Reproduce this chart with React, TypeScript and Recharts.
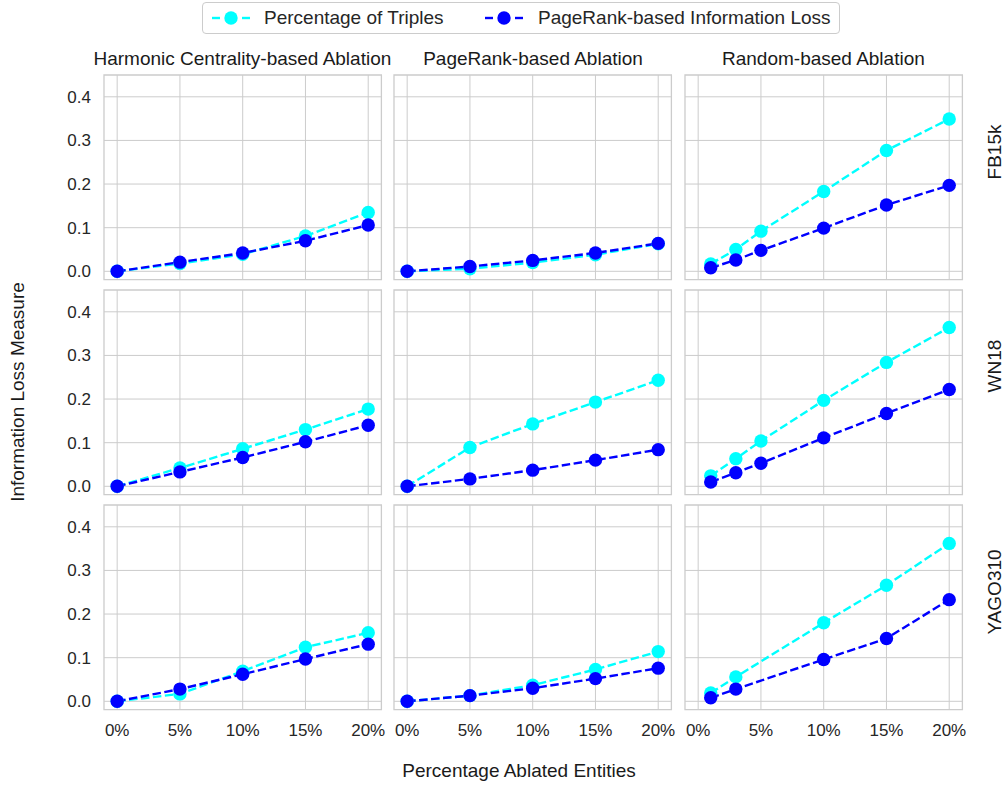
import { LineChart, Line, XAxis, YAxis, CartesianGrid, ReferenceArea } from 'recharts';

// x positions (percentage of ablated entities)
const centralityPct = [0, 5, 10, 15, 20];
const randomPct = [1, 3, 5, 10, 15, 20];
const randomPctYago = [1, 3, 10, 15, 20];

// FB15k
const fb15kHcTriples = [0, 0.018, 0.039, 0.081, 0.135];
const fb15kHcPagerank = [0, 0.021, 0.042, 0.07, 0.106];
const fb15kPrTriples = [0, 0.006, 0.02, 0.038, 0.063];
const fb15kPrPagerank = [0, 0.011, 0.025, 0.042, 0.064];
const fb15kRndTriples = [0.017, 0.05, 0.092, 0.183, 0.277, 0.349];
const fb15kRndPagerank = [0.008, 0.026, 0.048, 0.099, 0.152, 0.197];

// WN18
const wn18HcTriples = [0, 0.042, 0.086, 0.13, 0.177];
const wn18HcPagerank = [0, 0.033, 0.066, 0.102, 0.14];
const wn18PrTriples = [0, 0.089, 0.143, 0.193, 0.243];
const wn18PrPagerank = [0, 0.017, 0.037, 0.06, 0.084];
const wn18RndTriples = [0.024, 0.063, 0.104, 0.197, 0.284, 0.364];
const wn18RndPagerank = [0.01, 0.031, 0.053, 0.111, 0.167, 0.222];

// YAGO310
const yagoHcTriples = [0, 0.017, 0.069, 0.124, 0.157];
const yagoHcPagerank = [0, 0.028, 0.062, 0.097, 0.131];
const yagoPrTriples = [0, 0.013, 0.037, 0.073, 0.114];
const yagoPrPagerank = [0, 0.013, 0.03, 0.052, 0.076];
const yagoRndTriples = [0.019, 0.056, 0.18, 0.266, 0.362];
const yagoRndPagerank = [0.008, 0.028, 0.096, 0.144, 0.233];

const columnTitles = ['Harmonic Centrality-based Ablation', 'PageRank-based Ablation', 'Random-based Ablation'];
const rowTitles = ['FB15k', 'WN18', 'YAGO310'];
const xTicks = [0, 5, 10, 15, 20];
const yTicks = [0, 0.1, 0.2, 0.3, 0.4];
const seriesNames = ['Percentage of Triples', 'PageRank-based Information Loss'];

const CYAN = '#00ffff';
const BLUE = '#0000ff';
const TEXT = '#262626';
const GRID = '#cccccc';
const FONT = '"Liberation Sans", Arial, sans-serif';
const DASH = '8.5 3.5';

const X_DOMAIN: [number, number] = [-1.05, 21.05];
const Y_DOMAIN: [number, number] = [-0.019, 0.45];
const PLOT_W = 277.4;
const PLOT_H = 204.6;
const PAD = 20;
const Y_AXIS_W = 50;
const X_AXIS_H = 40;
const colLeft = [103.7, 394.3, 684.7];
const rowTop = [74.7, 289.7, 504.7];
const rowLabelY = [152, 366, 592];

const zip = (xs: number[], a: number[], b: number[]) =>
  xs.map((pct, i) => ({ pct, triples: a[i], pagerank: b[i] }));

const grid = [
  [zip(centralityPct, fb15kHcTriples, fb15kHcPagerank), zip(centralityPct, fb15kPrTriples, fb15kPrPagerank), zip(randomPct, fb15kRndTriples, fb15kRndPagerank)],
  [zip(centralityPct, wn18HcTriples, wn18HcPagerank), zip(centralityPct, wn18PrTriples, wn18PrPagerank), zip(randomPct, wn18RndTriples, wn18RndPagerank)],
  [zip(centralityPct, yagoHcTriples, yagoHcPagerank), zip(centralityPct, yagoPrTriples, yagoPrPagerank), zip(randomPctYago, yagoRndTriples, yagoRndPagerank)],
];

interface PanelProps {
  data: { pct: number; triples: number; pagerank: number }[];
  row: number;
  col: number;
}

function Panel({ data, row, col }: PanelProps) {
  const showY = col === 0;
  const showX = row === 2;
  const w = PLOT_W + 2 * PAD + (showY ? Y_AXIS_W : 0);
  const h = PLOT_H + 2 * PAD + (showX ? X_AXIS_H : 0);
  const left = colLeft[col] - PAD - (showY ? Y_AXIS_W : 0);
  const top = rowTop[row] - PAD;
  const tick = { fill: TEXT, fontSize: 17, fontFamily: FONT };

  return (
    <div style={{ position: 'absolute', left, top }}>
      <LineChart width={w} height={h} data={data} margin={{ top: PAD, right: PAD, bottom: PAD, left: PAD }}>
        <CartesianGrid stroke={GRID} strokeWidth={1} horizontalValues={yTicks} verticalValues={xTicks} />
        <XAxis
          dataKey="pct"
          type="number"
          domain={X_DOMAIN}
          ticks={xTicks}
          allowDataOverflow
          interval={0}
          hide={!showX}
          height={X_AXIS_H}
          tickLine={false}
          axisLine={false}
          tickSize={0}
          tickMargin={14}
          tick={tick}
          tickFormatter={(v: number) => `${v}%`}
        />
        <YAxis
          type="number"
          domain={Y_DOMAIN}
          ticks={yTicks}
          allowDataOverflow
          interval={0}
          hide={!showY}
          width={Y_AXIS_W}
          tickLine={false}
          axisLine={false}
          tickSize={0}
          tickMargin={13}
          tick={tick}
          tickFormatter={(v: number) => v.toFixed(1)}
        />
        <ReferenceArea x1={X_DOMAIN[0]} x2={X_DOMAIN[1]} y1={Y_DOMAIN[0]} y2={Y_DOMAIN[1]} fill="none" fillOpacity={0} stroke={GRID} strokeWidth={1.3} />
        <Line
          dataKey="triples"
          type="linear"
          stroke={CYAN}
          strokeWidth={2.4}
          strokeDasharray={DASH}
          dot={{ r: 6.7, fill: CYAN, stroke: 'none' }}
          isAnimationActive={false}
        />
        <Line
          dataKey="pagerank"
          type="linear"
          stroke={BLUE}
          strokeWidth={2.4}
          strokeDasharray={DASH}
          dot={{ r: 6.7, fill: BLUE, stroke: 'none' }}
          isAnimationActive={false}
        />
      </LineChart>
    </div>
  );
}

function Swatch({ color }: { color: string }) {
  return (
    <svg width={40} height={16} style={{ display: 'block' }}>
      <line x1={1} y1={8} x2={9} y2={8} stroke={color} strokeWidth={2.4} />
      <line x1={31} y1={8} x2={39} y2={8} stroke={color} strokeWidth={2.4} />
      <circle cx={20} cy={8} r={6.7} fill={color} />
    </svg>
  );
}

const labelStyle = { position: 'absolute' as const, whiteSpace: 'nowrap' as const, color: TEXT, fontSize: 19, lineHeight: '22px' };

export default function App() {
  return (
    <div style={{ position: 'absolute', left: 0, top: 0, width: 1005, height: 787, background: '#fff', fontFamily: FONT, overflow: 'hidden' }}>
      {/* legend */}
      <div style={{ position: 'absolute', left: 202, top: 2, width: 638, height: 32, border: `1px solid ${GRID}`, borderRadius: 4, boxSizing: 'border-box' }}>
        <div style={{ position: 'absolute', left: 8, top: 7 }}><Swatch color={CYAN} /></div>
        <div style={{ ...labelStyle, left: 61, top: 4 }}>{seriesNames[0]}</div>
        <div style={{ position: 'absolute', left: 281, top: 7 }}><Swatch color={BLUE} /></div>
        <div style={{ ...labelStyle, left: 335, top: 4 }}>{seriesNames[1]}</div>
      </div>

      {columnTitles.map((t, c) => (
        <div key={t} style={{ ...labelStyle, left: colLeft[c] + PLOT_W / 2, top: 48, transform: 'translateX(-50%)', color: '#1a1a1a' }}>{t}</div>
      ))}

      {rowTitles.map((t, r) => (
        <div key={t} style={{ ...labelStyle, left: 995, top: rowLabelY[r], transform: 'translate(-50%, -50%) rotate(-90deg)', color: '#1a1a1a' }}>{t}</div>
      ))}

      {grid.map((rowData, r) => rowData.map((data, c) => <Panel key={`${r}-${c}`} data={data} row={r} col={c} />))}

      <div style={{ ...labelStyle, left: 18, top: 392, transform: 'translate(-50%, -50%) rotate(-90deg)', color: '#1a1a1a' }}>Information Loss Measure</div>
      <div style={{ ...labelStyle, left: 519, top: 771, transform: 'translate(-50%, -50%)', color: '#1a1a1a' }}>Percentage Ablated Entities</div>
    </div>
  );
}
